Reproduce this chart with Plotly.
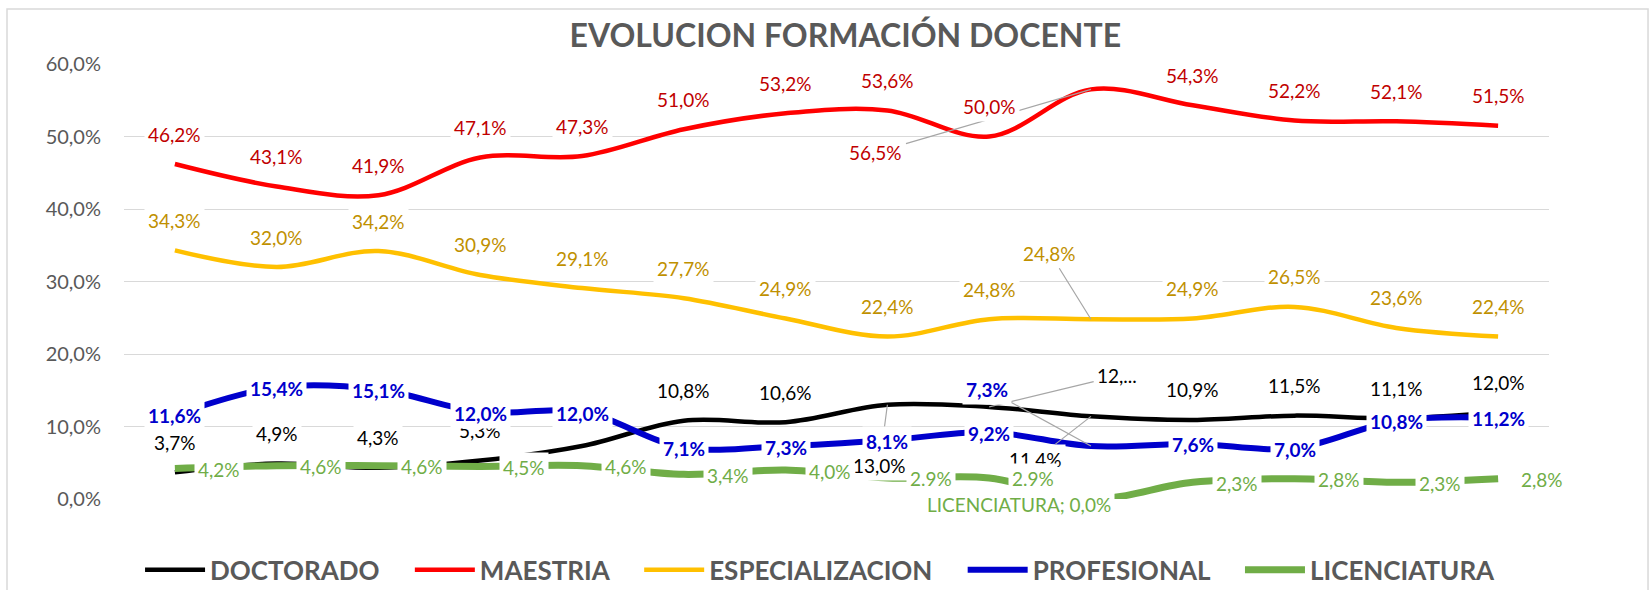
import plotly.graph_objects as go

# ---------------- data ----------------
PERIODS = list(range(14))
SERIES = ["DOCTORADO", "MAESTRIA", "ESPECIALIZACION", "PROFESIONAL", "LICENCIATURA"]
DOCTORADO = [3.7, 4.9, 4.3, 5.3, 7.3, 10.8, 10.6, 13.0, 12.7, 11.4, 10.9, 11.5, 11.1, 12.0]
MAESTRIA = [46.2, 43.1, 41.9, 47.1, 47.3, 51.0, 53.2, 53.6, 50.0, 56.5, 54.3, 52.2, 52.1, 51.5]
ESPECIALIZACION = [34.3, 32.0, 34.2, 30.9, 29.1, 27.7, 24.9, 22.4, 24.8, 24.8, 24.9, 26.5, 23.6, 22.4]
PROFESIONAL = [11.6, 15.4, 15.1, 12.0, 12.0, 7.1, 7.3, 8.1, 9.2, 7.3, 7.6, 7.0, 10.8, 11.2]
LICENCIATURA = [4.2, 4.6, 4.6, 4.5, 4.6, 3.4, 4.0, 2.9, 2.9, 0.0, 2.3, 2.8, 2.3, 2.8]
Y_TICKS = [0, 0.1, 0.2, 0.3, 0.4, 0.5, 0.6]

# label texts that differ from the default formatting (as shown in the original)
LABEL_OVERRIDES = {
    ("DOCTORADO", 8): "12,...",
    ("LICENCIATURA", 7): "2.9%",
    ("LICENCIATURA", 8): "2.9%",
    ("LICENCIATURA", 9): "LICENCIATURA; 0,0%",
}

VALUES = {
    "DOCTORADO": DOCTORADO,
    "MAESTRIA": MAESTRIA,
    "ESPECIALIZACION": ESPECIALIZACION,
    "PROFESIONAL": PROFESIONAL,
    "LICENCIATURA": LICENCIATURA,
}

# ---------------- styles ----------------
FONT = "Lato"
LINE_COLORS = {
    "DOCTORADO": "#000000",
    "MAESTRIA": "#FF0000",
    "ESPECIALIZACION": "#FFC000",
    "PROFESIONAL": "#0000CC",
    "LICENCIATURA": "#70AD47",
}
LINE_WIDTHS = {
    "DOCTORADO": 4.5,
    "MAESTRIA": 4.5,
    "ESPECIALIZACION": 4.5,
    "PROFESIONAL": 6,
    "LICENCIATURA": 7,
}
LABEL_COLORS = {
    "DOCTORADO": "#000000",
    "MAESTRIA": "#C00000",
    "ESPECIALIZACION": "#BF9000",
    "PROFESIONAL": "#0000CC",
    "LICENCIATURA": "#70AD47",
}
LABEL_SHIFT = {  # (xshift, yshift) in px relative to the point
    "DOCTORADO": (0, 30),
    "MAESTRIA": (0, 30),
    "ESPECIALIZACION": (0, 30),
    "PROFESIONAL": (0, -1),
    "LICENCIATURA": (44, -1),
}
# labels moved away from their points, with a leader line (ax, ay in px)
CALLOUTS = {
    ("DOCTORADO", 7): (-8, 61),
    ("DOCTORADO", 8): (128, -31),
    ("DOCTORADO", 9): (-55, 43),
    ("MAESTRIA", 9): (-215, 63),
    ("ESPECIALIZACION", 9): (-41, -66),
    ("PROFESIONAL", 9): (-104, -57),
}
LEGEND_PAD = "\u00a0" * 4  # spacing after each legend entry


def fmt(v):
    return f"{v:.1f}%".replace(".", ",")


fig = go.Figure()
for k, s in enumerate(SERIES):
    fig.add_trace(go.Scatter(
        x=PERIODS,
        y=[v / 100 for v in VALUES[s]],
        mode="lines",
        name=s + (LEGEND_PAD if k < len(SERIES) - 1 else ""),
        line=dict(color=LINE_COLORS[s], width=LINE_WIDTHS[s], shape="spline", smoothing=1.0),
        hoverinfo="skip",
    ))


def label_annotations(s):
    """Returns (callouts, plain) annotation lists for series s."""
    callouts, plain = [], []
    for i, v in enumerate(VALUES[s]):
        text = LABEL_OVERRIDES.get((s, i), fmt(v))
        font = dict(family=FONT, size=19, color=LABEL_COLORS[s],
                    weight="bold" if s == "PROFESIONAL" else "normal")
        base = dict(x=PERIODS[i], y=v / 100, xref="x", yref="y", text=text, font=font,
                    bgcolor="white", borderpad=3)
        key = (s, i)
        if key in CALLOUTS:
            ax, ay = CALLOUTS[key]
            callouts.append(dict(base, showarrow=True, arrowhead=0, arrowwidth=1.2,
                                 arrowcolor="#A6A6A6", ax=ax, ay=ay, standoff=0))
        elif key == ("LICENCIATURA", 9):
            plain.append(dict(base, showarrow=False, xshift=-72, yshift=-5))
        else:
            xs, ys = LABEL_SHIFT[s]
            plain.append(dict(base, showarrow=False, xshift=xs, yshift=ys))
    return callouts, plain


annotations = []
for s in SERIES:
    c, p = label_annotations(s)
    annotations += c + p  # leader lines first so label boxes of the series sit above them

fig.update_layout(
    width=1651,
    height=590,
    margin=dict(l=124, r=102, t=64, b=91, autoexpand=False),
    paper_bgcolor="white",
    plot_bgcolor="white",
    separators=",.",
    font=dict(family=FONT, color="#595959"),
    title=dict(
        text="<b>EVOLUCION FORMACIÓN DOCENTE</b>",
        x=0.512, xanchor="center", xref="container",
        y=0.939, yanchor="middle", yref="container",
        font=dict(family=FONT, size=32, color="#595959"),
    ),
    xaxis=dict(range=[-0.5, 13.5], showgrid=False, showticklabels=False, zeroline=False,
               showline=False, ticks=""),
    yaxis=dict(range=[0, 0.6], tickvals=Y_TICKS, tickformat=".1%", showgrid=True,
               gridcolor="#D9D9D9", gridwidth=1.3, zeroline=False, showline=False,
               tickfont=dict(family=FONT, size=20, color="#595959"), ticklabelstandoff=22),
    showlegend=True,
    legend=dict(
        orientation="h", x=0.497, xanchor="center", xref="container",
        y=0.034, yanchor="middle", yref="container",
        font=dict(family=FONT, size=26, color="#595959", weight="bold"),
        itemwidth=60, bgcolor="rgba(0,0,0,0)",
    ),
    annotations=annotations,
    shapes=[dict(type="rect", xref="paper", yref="paper", x0=-0.0821, x1=1.0695,
                 y0=-0.4, y1=1.1264, line=dict(color="#D9D9D9", width=1.5),
                 fillcolor="rgba(0,0,0,0)", layer="below")],
)

# remove the browser's default 8px page margin so the figure fills the window exactly
fig.write_html("out.html", config={"displayModeBar": False},
               post_script="document.body.style.margin='0px';")
